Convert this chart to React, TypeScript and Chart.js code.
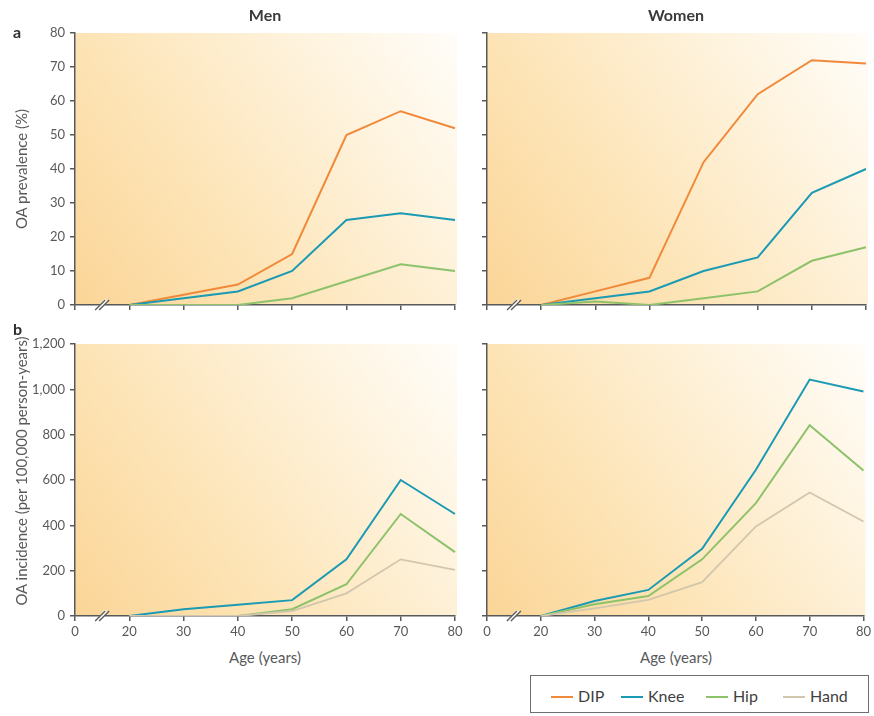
import React, { useEffect, useRef } from 'react';
import { Chart, registerables } from 'chart.js';

Chart.register(...registerables);

// ---------- data ----------
const AGE_LABELS = ['0', '20', '30', '40', '50', '60', '70', '80'];
const SERIES = ['DIP', 'Knee', 'Hip', 'Hand'];
const SERIES_COLORS = ['#f08a3a', '#1b9ab4', '#8dc26b', '#d2c6ad'];

// Prevalence (%), ages 20..80 (first slot = axis origin 0, no data)
const MEN_PREV_DIP = [null, 0, 3, 6, 15, 50, 57, 52];
const MEN_PREV_KNEE = [null, 0, 2, 4, 10, 25, 27, 25];
const MEN_PREV_HIP = [null, 0, 0, 0, 2, 7, 12, 10];

const WOMEN_PREV_DIP = [null, 0, 4, 8, 42, 62, 72, 71];
const WOMEN_PREV_KNEE = [null, 0, 2, 4, 10, 14, 33, 40];
const WOMEN_PREV_HIP = [null, 0, 1, 0, 2, 4, 13, 17];

// Incidence (per 100,000 person-years)
const MEN_INC_KNEE = [null, 0, 30, 50, 70, 250, 600, 450];
const MEN_INC_HIP = [null, 0, 0, 0, 30, 140, 450, 282];
const MEN_INC_HAND = [null, 0, 0, 0, 22, 100, 250, 203];

const WOMEN_INC_KNEE = [null, 0, 66, 115, 296, 645, 1043, 990];
const WOMEN_INC_HIP = [null, 0, 52, 88, 250, 498, 842, 642];
const WOMEN_INC_HAND = [null, 0, 34, 71, 149, 395, 545, 417];

const PREV_MAX = 80;
const PREV_STEP = 10;
const INC_MAX = 1200;
const INC_STEP = 200;

const FONT = 'Lato, "Open Sans", "Noto Sans", sans-serif';
const TEXT = '#58595b';
const AXIS = '#58595b';

const bgPlugin = {
  id: 'panelBg',
  beforeDraw(chart: any) {
    const { ctx, chartArea: a } = chart;
    if (!a) return;
    const g = ctx.createLinearGradient(a.left, a.bottom, a.right, a.top);
    g.addColorStop(0, '#fbd597');
    g.addColorStop(0.35, '#fde4b6');
    g.addColorStop(0.7, '#fef2db');
    g.addColorStop(1, '#fffdf9');
    ctx.save();
    ctx.fillStyle = g;
    ctx.fillRect(a.left, a.top, a.right - a.left + 2, a.bottom - a.top);
    ctx.restore();
  },
  afterDraw(chart: any) {
    const { ctx, chartArea: a } = chart;
    const xs = chart.scales.x;
    const x = xs.getPixelForValue(0.5);
    const y = a.bottom;
    ctx.save();
    ctx.strokeStyle = '#ffffff';
    ctx.lineWidth = 4;
    ctx.beginPath();
    ctx.moveTo(x - 4, y + 5);
    ctx.lineTo(x + 4, y - 5);
    ctx.stroke();
    ctx.strokeStyle = AXIS;
    ctx.lineWidth = 1.3;
    for (const d of [-2, 2]) {
      ctx.beginPath();
      ctx.moveTo(x - 5 + d, y + 5);
      ctx.lineTo(x + 5 + d, y - 5);
      ctx.stroke();
    }
    ctx.restore();
  },
};

type PanelProps = {
  left: number;
  top: number;
  width: number;
  height: number;
  padTop: number;
  padRight: number;
  yWidth: number;
  xHeight: number;
  yMax: number;
  yStep: number;
  showY: boolean;
  showX: boolean;
  data: { name: string; values: (number | null)[] }[];
};

function Panel(p: PanelProps) {
  const ref = useRef<HTMLCanvasElement | null>(null);
  useEffect(() => {
    if (!ref.current) return;
    const chart = new Chart(ref.current, {
      type: 'line',
      data: {
        labels: AGE_LABELS,
        datasets: p.data.map((d) => {
          const c = SERIES_COLORS[SERIES.indexOf(d.name)];
          return {
            label: d.name,
            data: d.values,
            borderColor: c,
            backgroundColor: c,
            borderWidth: d.name === 'Hand' ? 1.8 : 2,
            pointRadius: 0,
            tension: 0,
            fill: false,
          };
        }),
      },
      options: {
        responsive: false,
        animation: false,
        events: [],
        layout: { padding: { top: p.padTop, right: p.padRight, left: 0, bottom: 0 } },
        plugins: { legend: { display: false }, tooltip: { enabled: false }, title: { display: false } },
        scales: {
          x: {
            type: 'category',
            offset: false,
            afterFit: (s: any) => {
              s.height = p.xHeight;
            },
            grid: {
              display: true,
              drawOnChartArea: false,
              drawTicks: true,
              tickLength: 5,
              color: AXIS,
              lineWidth: 1.5,
            },
            border: { display: true, color: AXIS, width: 1.5 },
            ticks: {
              autoSkip: false,
              maxRotation: 0,
              padding: 3,
              color: TEXT,
              font: { family: FONT, size: 13 },
              callback: (_v: any, i: number) => (p.showX ? AGE_LABELS[i] : ''),
            },
          },
          y: {
            min: 0,
            max: p.yMax,
            afterFit: (s: any) => {
              s.width = p.yWidth;
            },
            grid: {
              display: true,
              drawOnChartArea: false,
              drawTicks: true,
              tickLength: 5,
              color: AXIS,
              lineWidth: 1.5,
            },
            border: { display: true, color: AXIS, width: 1.5 },
            ticks: {
              stepSize: p.yStep,
              padding: 5,
              color: TEXT,
              font: { family: FONT, size: 13 },
              callback: (v: any) => (p.showY ? Number(v).toLocaleString('en-US') : ''),
            },
          },
        },
      },
      plugins: [bgPlugin],
    } as any);
    return () => chart.destroy();
  }, []);
  return (
    <canvas
      ref={ref}
      width={p.width}
      height={p.height}
      style={{ position: 'absolute', left: p.left, top: p.top, width: p.width, height: p.height }}
    />
  );
}

const txt: React.CSSProperties = {
  position: 'absolute',
  fontFamily: FONT,
  color: TEXT,
  whiteSpace: 'nowrap',
};

export default function App() {
  return (
    <div style={{ position: 'absolute', left: 0, top: 0, width: 874, height: 716, background: '#fff' }}>
      <Panel
        left={0} top={20} width={470} height={310} padTop={13} padRight={15} yWidth={75} xHeight={25}
        yMax={PREV_MAX} yStep={PREV_STEP} showY={true} showX={false}
        data={[
          { name: 'Hip', values: MEN_PREV_HIP },
          { name: 'Knee', values: MEN_PREV_KNEE },
          { name: 'DIP', values: MEN_PREV_DIP },
        ]}
      />
      <Panel
        left={470} top={20} width={404} height={310} padTop={13} padRight={8} yWidth={17} xHeight={25}
        yMax={PREV_MAX} yStep={PREV_STEP} showY={false} showX={false}
        data={[
          { name: 'Hip', values: WOMEN_PREV_HIP },
          { name: 'Knee', values: WOMEN_PREV_KNEE },
          { name: 'DIP', values: WOMEN_PREV_DIP },
        ]}
      />
      <Panel
        left={0} top={330} width={470} height={310} padTop={14} padRight={15} yWidth={75} xHeight={24}
        yMax={INC_MAX} yStep={INC_STEP} showY={true} showX={true}
        data={[
          { name: 'Hand', values: MEN_INC_HAND },
          { name: 'Hip', values: MEN_INC_HIP },
          { name: 'Knee', values: MEN_INC_KNEE },
        ]}
      />
      <Panel
        left={470} top={330} width={404} height={310} padTop={14} padRight={8} yWidth={17} xHeight={24}
        yMax={INC_MAX} yStep={INC_STEP} showY={false} showX={true}
        data={[
          { name: 'Hand', values: WOMEN_INC_HAND },
          { name: 'Hip', values: WOMEN_INC_HIP },
          { name: 'Knee', values: WOMEN_INC_KNEE },
        ]}
      />

      {/* titles */}
      <div style={{ ...txt, left: 165, width: 200, top: 5, textAlign: 'center', fontWeight: 700, fontSize: 16, color: '#3a3a3a' }}>Men</div>
      <div style={{ ...txt, left: 576, width: 200, top: 5, textAlign: 'center', fontWeight: 700, fontSize: 16, color: '#3a3a3a' }}>Women</div>
      <div style={{ ...txt, left: 13, top: 22, fontWeight: 700, fontSize: 16, color: '#2d2d2d' }}>a</div>
      <div style={{ ...txt, left: 13, top: 319, fontWeight: 700, fontSize: 16, color: '#2d2d2d' }}>b</div>

      {/* y axis titles */}
      <div style={{ ...txt, left: 21, top: 169, fontSize: 15, transform: 'translate(-50%, -50%) rotate(-90deg)' }}>
        OA prevalence (%)
      </div>
      <div style={{ ...txt, left: 21, top: 471, fontSize: 15, transform: 'translate(-50%, -50%) rotate(-90deg)' }}>
        OA incidence  (per 100,000 person-years)
      </div>

      {/* x axis titles */}
      <div style={{ ...txt, left: 165, width: 200, top: 648, textAlign: 'center', fontSize: 15 }}>Age (years)</div>
      <div style={{ ...txt, left: 576, width: 200, top: 648, textAlign: 'center', fontSize: 15 }}>Age (years)</div>

      {/* legend */}
      <div style={{ position: 'absolute', left: 530, top: 675, width: 337, height: 36, border: '1.5px solid #6d6e71', boxSizing: 'content-box' }} />
      {SERIES.map((s, i) => {
        const xs = [551, 621, 706, 783][i];
        return (
          <React.Fragment key={s}>
            <div style={{ position: 'absolute', left: xs, top: 696, width: 22, height: 2, background: SERIES_COLORS[i] }} />
            <div style={{ ...txt, left: xs + 27, top: 686, fontSize: 16, color: '#3f3f3f' }}>{s}</div>
          </React.Fragment>
        );
      })}
    </div>
  );
}
